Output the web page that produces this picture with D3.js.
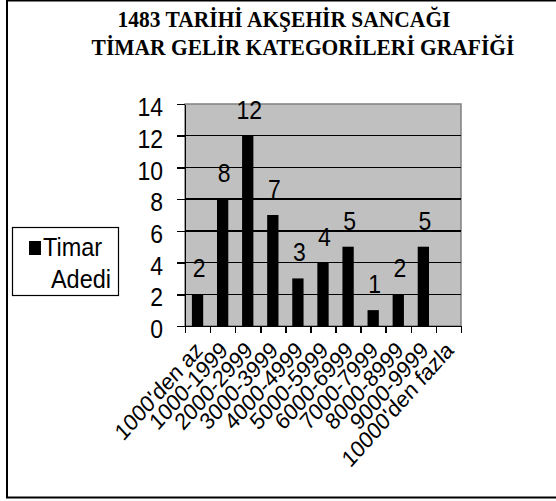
<!DOCTYPE html>
<meta charset="utf-8">
<style>
body{ margin:0; background:#fff; }
text{ font-family: Arial, "Liberation Sans", sans-serif; fill:#000; }
.title{ font-family:"Times New Roman","Liberation Serif",serif; font-weight:bold; font-size:21.5px; text-anchor:middle; }
.axis text{ font-size:23px; }
.axis path, .axis line{ stroke:#000; stroke-width:1.5px; shape-rendering:crispEdges; }
.grid line{ stroke:#000; stroke-width:1.5px; shape-rendering:crispEdges; }
.label{ font-size:23px; text-anchor:middle; }
.xlab{ font-size:21px; text-anchor:end; }
.legend text{ font-size:23.5px; }
</style>
<body>
<script src="https://d3js.org/d3.v7.min.js"></script>
<script>

var categories=["1000'den az","1000-1999","2000-2999","3000-3999","4000-4999","5000-5999",
	"6000-6999","7000-7999","8000-8999","9000-9999","10000'den fazla"];
var timarAdedi=[2,8,12,7,3,4,5,1,2,5,null];
var yTicks=[0,2,4,6,8,10,12,14];
var titleLines=["1483 TARİHİ AKŞEHİR SANCAĞI","TİMAR GELİR KATEGORİLERİ GRAFİĞİ"];
var seriesName=["Timar","Adedi"];

// the original picture is a little stretched vertically
var SY=1.12;

var svg=d3.select("body").append("svg").attr("width",556).attr("height",501);

// outer frame
svg.append("rect").attr("x",7).attr("y",0.5).attr("width",600).attr("height",497)
	.attr("fill","none").attr("stroke","#000").attr("stroke-width",2);

svg.append("text").attr("class","title")
	.attr("transform","translate(284,27) scale(1,"+SY+")").text(titleLines[0]);
svg.append("text").attr("class","title")
	.attr("transform","translate(303,55) scale(1,"+SY+")").text(titleLines[1]);

var pLeft=185, pRight=461, pTop=104, pBottom=326;

var x=d3.scaleBand().domain(categories).range([pLeft,pRight])
	.paddingInner(0.55).paddingOuter(0.275);
var xEdge=d3.scaleLinear().domain([0,categories.length]).range([pLeft,pRight]);
var y=d3.scaleLinear().domain([0,14]).range([pBottom,pTop]);

// plot area
svg.append("rect").attr("x",pLeft).attr("y",pTop).attr("width",pRight-pLeft).attr("height",pBottom-pTop)
	.attr("fill","#c0c0c0").attr("stroke","#808080").attr("stroke-width",1.5);

svg.append("g").attr("class","grid").selectAll("line")
	.data(yTicks.filter(d=>d>0 && d<14)).join("line")
	.attr("x1",pLeft).attr("x2",pRight).attr("y1",d=>y(d)).attr("y2",d=>y(d));

// bars
var data=categories.map((c,i)=>({cat:c,v:timarAdedi[i]})).filter(d=>d.v!=null);
svg.append("g").selectAll("rect").data(data).join("rect")
	.attr("x",d=>x(d.cat)).attr("width",x.bandwidth())
	.attr("y",d=>y(d.v)).attr("height",d=>y(0)-y(d.v))
	.attr("fill","#000");

svg.append("g").selectAll("text").data(data).join("text").attr("class","label")
	.attr("transform",d=>"translate("+(x(d.cat)+x.bandwidth()/2+1.5)+","+(y(d.v)-17)+") scale(1,"+SY+")")
	.text(d=>d.v);

// y axis
var ya=svg.append("g").attr("class","axis").attr("transform","translate("+pLeft+",0)")
	.call(d3.axisLeft(y).tickValues(yTicks).tickSize(8).tickPadding(14).tickSizeOuter(0));
ya.selectAll("text").attr("transform","scale(1,"+SY+")").attr("dy","0.45em");

// x axis
var xa=svg.append("g").attr("class","axis").attr("transform","translate(0,"+pBottom+")")
	.call(d3.axisBottom(xEdge).tickValues(d3.range(categories.length+1)).tickSize(7).tickSizeOuter(0).tickFormat(""));

svg.append("g").selectAll("text").data(categories).join("text").attr("class","xlab")
	.attr("transform",d=>"translate("+(x(d)+x.bandwidth()/2-4)+","+(pBottom+14)+") scale(1,"+SY+") rotate(-45)")
	.attr("dy","0.7em")
	.text(d=>d);

// legend
var lg=svg.append("g").attr("class","legend");
lg.append("rect").attr("x",12.5).attr("y",227.5).attr("width",106).attr("height",68)
	.attr("fill","#fff").attr("stroke","#000").attr("stroke-width",1.2);
lg.append("rect").attr("x",29).attr("y",241).attr("width",12).attr("height",14).attr("fill","#000");
lg.append("text").attr("transform","translate(43,256) scale(1,"+SY+")").text(seriesName[0]);
lg.append("text").attr("text-anchor","end").attr("transform","translate(111,288) scale(1,"+SY+")").text(seriesName[1]);

</script>
</body>
</html>
